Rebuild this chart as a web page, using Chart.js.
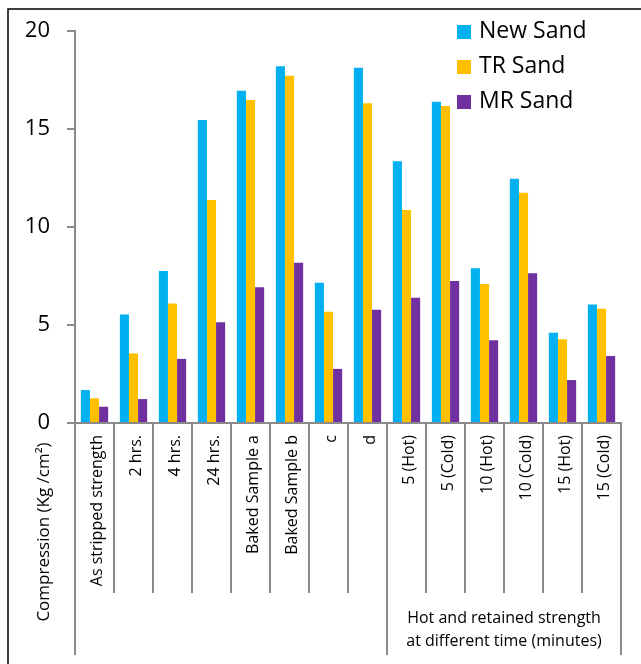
<!DOCTYPE html>
<html><head><meta charset="utf-8">
<script src="https://cdn.jsdelivr.net/npm/chart.js@4.4.1/dist/chart.umd.min.js"></script>
<style>html,body{margin:0;padding:0;background:#fff;} canvas{display:block;}</style>
</head><body>
<canvas id="c" width="641" height="664"></canvas>
<script>
const categories = ['As stripped strength','2 hrs.','4 hrs.','24 hrs.','Baked Sample a','Baked Sample b','c','d','5 (Hot)','5 (Cold)','10 (Hot)','10 (Cold)','15 (Hot)','15 (Cold)'];
const newSand = [1.68,5.54,7.76,15.46,16.95,18.2,7.16,18.13,13.35,16.39,7.89,12.46,4.61,6.04];
const trSand  = [1.26,3.55,6.10,11.38,16.48,17.72,5.68,16.31,10.87,16.17,7.09,11.75,4.27,5.83];
const mrSand  = [0.83,1.22,3.27,5.14,6.92,8.18,2.76,5.78,6.39,7.24,4.22,7.64,2.19,3.42];
const seriesNames = ['New Sand','TR Sand','MR Sand'];
const seriesColors = ['#00B0F0','#FFC000','#7030A0'];
const yTicks = [0,5,10,15,20];
const groups = [
  {label: [], start: 0, end: 7},
  {label: ['Hot and retained strength','at different time (minutes)'], start: 8, end: 13}
];
const yTitle = 'Compression (Kg /cm²)';

const FONT = '"Open Sans", sans-serif';
const AXIS_GREY = '#8a8a8a';

const decor = {
  id: 'decor',
  beforeDraw(chart) {
    const ctx = chart.ctx;
    ctx.save();
    ctx.fillStyle = '#fff';
    ctx.fillRect(0, 0, chart.width, chart.height);
    ctx.restore();
  },
  afterDraw(chart) {
    const ctx = chart.ctx;
    const xs = chart.scales.x;
    const area = chart.chartArea;
    const n = categories.length;
    const w = (xs.right - xs.left) / n;
    ctx.save();
    // category dividers
    const groupEdges = new Set([0]);
    groups.forEach(g => groupEdges.add(g.end + 1));
    ctx.strokeStyle = AXIS_GREY;
    ctx.lineWidth = 2;
    for (let i = 0; i <= n; i++) {
      const x = Math.round(xs.left + i * w);
      const yEnd = groupEdges.has(i) ? 655 : 593;
      ctx.beginPath();
      ctx.moveTo(x, area.bottom);
      ctx.lineTo(x, yEnd);
      ctx.stroke();
    }
    // group labels
    ctx.fillStyle = '#000';
    ctx.font = '16px ' + FONT;
    ctx.textAlign = 'center';
    ctx.textBaseline = 'middle';
    groups.forEach(g => {
      const cx = xs.left + (g.start + g.end + 1) / 2 * w;
      g.label.forEach((t, k) => ctx.fillText(t, cx, 618 + k * 23));
    });
    // y title
    ctx.save();
    ctx.translate(44, 532);
    ctx.rotate(-Math.PI / 2);
    ctx.font = '17px ' + FONT;
    ctx.textAlign = 'center';
    ctx.textBaseline = 'middle';
    ctx.fillText(yTitle, 0, 0);
    ctx.restore();
    // legend
    ctx.font = '23px ' + FONT;
    ctx.textAlign = 'left';
    ctx.textBaseline = 'middle';
    chart.data.datasets.forEach((ds, i) => {
      const cy = 32 + i * 35;
      ctx.fillStyle = ds.backgroundColor;
      ctx.fillRect(457, cy - 7, 14, 14);
      ctx.fillStyle = '#000';
      ctx.fillText(ds.label, 479, cy - 1);
    });
    // frame
    ctx.strokeStyle = '#000';
    ctx.lineWidth = 1.5;
    ctx.beginPath();
    ctx.moveTo(8, chart.height);
    ctx.lineTo(8, 9);
    ctx.lineTo(chart.width, 9);
    ctx.stroke();
    ctx.restore();
  }
};

new Chart(document.getElementById('c'), {
  type: 'bar',
  data: {
    labels: categories,
    datasets: [newSand, trSand, mrSand].map((d, i) => ({
      label: seriesNames[i],
      data: d,
      backgroundColor: seriesColors[i],
      borderWidth: 0,
      categoryPercentage: 0.7,
      barPercentage: 1.0
    }))
  },
  options: {
    responsive: false,
    animation: false,
    devicePixelRatio: 1,
    layout: { padding: { top: 31, right: 20, left: 0, bottom: 0 } },
    plugins: { legend: { display: false }, tooltip: { enabled: false } },
    scales: {
      x: {
        grid: { display: false, drawTicks: false },
        border: { display: true, color: AXIS_GREY, width: 2 },
        ticks: {
          autoSkip: false, maxRotation: 90, minRotation: 90, padding: 12, labelOffset: 3,
          color: '#000', font: { family: FONT, size: 16 }
        },
        afterFit(scale) { scale.height = 241; }
      },
      y: {
        min: yTicks[0], max: yTicks[yTicks.length - 1],
        ticks: {
          stepSize: yTicks[1] - yTicks[0], padding: 17, color: '#000',
          font: { family: FONT, size: 22 }
        },
        grid: { drawOnChartArea: false, drawTicks: true, tickLength: 8, color: AXIS_GREY, lineWidth: 2 },
        border: { display: true, color: AXIS_GREY, width: 2 },
        afterFit(scale) { scale.width = 75; }
      }
    }
  },
  plugins: [decor]
});
</script>
</body></html>
